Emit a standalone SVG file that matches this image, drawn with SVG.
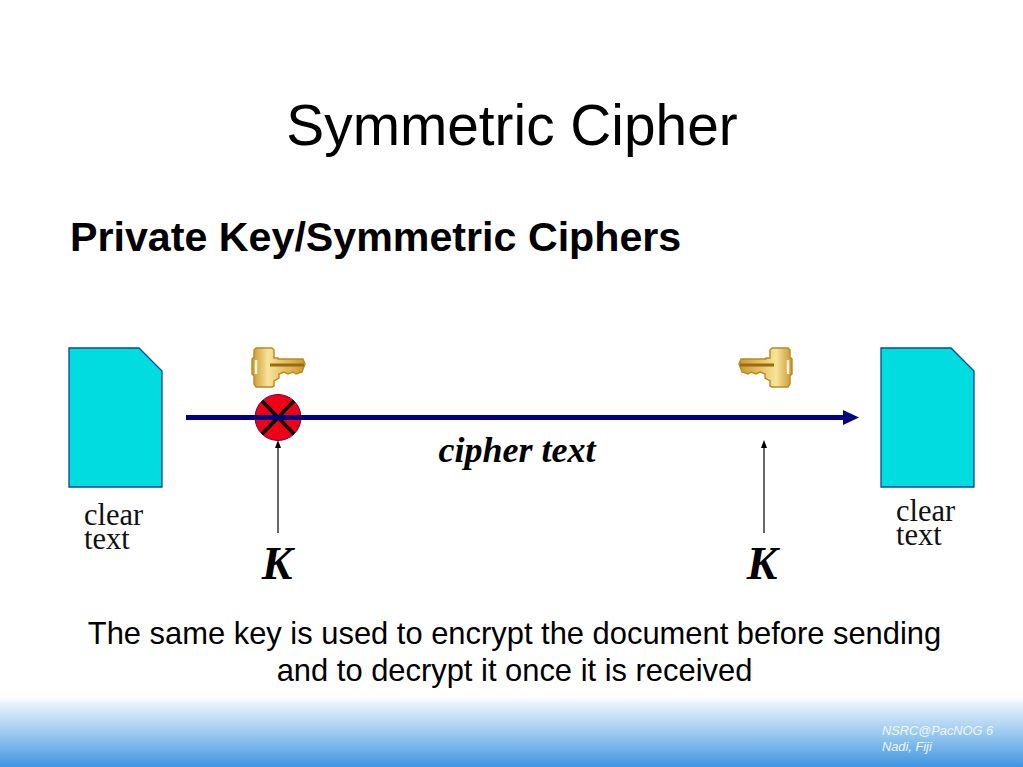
<svg xmlns="http://www.w3.org/2000/svg" width="1023" height="767" viewBox="0 0 1023 767">
<style>
.sans{font-family:"Liberation Sans",Arial,sans-serif}
.serif{font-family:"Liberation Serif","Times New Roman",serif}
.doc{fill:#00dcdf;stroke:#0b4a8f;stroke-width:1.3}
.lbl{font-size:30.5px;fill:#111}
.k{font-size:46px;font-weight:bold;font-style:italic;fill:#000}
.thin{stroke:#000;stroke-width:1.2;fill:none}
.keyb{fill:url(#gold);stroke:#b98a1e;stroke-width:1.4}
.body{font-size:30.9px;fill:#000;text-anchor:middle}
</style>
<defs>
<linearGradient id="band" x1="0" y1="0" x2="0" y2="1">
<stop offset="0" stop-color="#ffffff"/><stop offset="0.1" stop-color="#e6f2fb"/><stop offset="0.5" stop-color="#9fcbf0"/><stop offset="1" stop-color="#3f96e0"/>
</linearGradient>
<linearGradient id="gold" x1="0" y1="0" x2="1" y2="0">
<stop offset="0" stop-color="#c8962e"/><stop offset="0.3" stop-color="#f8e39a"/><stop offset="0.6" stop-color="#e6c264"/><stop offset="1" stop-color="#c89a30"/>
</linearGradient>
<g id="key">
<path class="keyb" d="M256,348 H272 L274,350 V358 H278 V359 H303 L305,364 L302,372 L296,374 L293,372 L288,374 L284,372 L279,374 V378 L274,381 V386 L272,387 H256 L254,384 V376 L252,374 V359 L254,357 V350 Z"/>
<path d="M270,365 H304" stroke="#9a6a14" stroke-width="3" fill="none"/>
<path d="M256,360 V374" stroke="#fff8d8" stroke-width="2.5" fill="none"/>
</g>
</defs>
<rect width="1023" height="767" fill="#fff"/>
<rect id="footer-band" x="0" y="697" width="1023" height="70" fill="url(#band)"/>
<text class="sans" x="512" y="145" font-size="56.8" text-anchor="middle" fill="#000">Symmetric Cipher</text>
<text class="sans" x="70" y="251" font-size="41.2" font-weight="bold" fill="#000">Private Key/Symmetric Ciphers</text>
<g id="doc-left"><path class="doc" d="M69,348 H139 L162,371 V487 H69 Z"/></g>
<g id="doc-right"><path class="doc" d="M881,348 H951 L974,371 V487 H881 Z"/></g>
<g id="label-left"><text class="serif lbl" x="84" y="525">clear<tspan x="84" dy="24">text</tspan></text></g>
<g id="label-right"><text class="serif lbl" x="896" y="521">clear<tspan x="896" dy="24">text</tspan></text></g>
<g id="key-left"><use href="#key"/></g>
<g id="key-right"><use href="#key" transform="translate(1044,0) scale(-1,1)"/></g>
<g id="connectors">
<path d="M186,417.5 H846" stroke="#000080" stroke-width="5" fill="none"/>
<path d="M843,410 L859,417.5 L843,425 Z" fill="#000080"/>
<path class="thin" d="M278,533 V446"/><path d="M275,448 L278,440 L281,448 Z" fill="#000"/>
<path class="thin" d="M764,533 V446"/><path d="M761,448 L764,440 L767,448 Z" fill="#000"/>
</g>
<g id="xor">
<circle cx="278" cy="417.5" r="23" fill="#f00014" stroke="#5a0a5a" stroke-width="1"/>
<path d="M262,401 L294,434 M294,401 L262,434" stroke="#000" stroke-width="3.5" fill="none"/>
<path d="M255,417.5 H301" stroke="#000080" stroke-width="5" fill="none"/>
</g>
<text class="serif" x="517" y="462" font-size="36" font-weight="bold" font-style="italic" text-anchor="middle" fill="#000">cipher text</text>
<text class="serif k" x="277" y="579" text-anchor="middle">K</text>
<text class="serif k" x="762" y="579" text-anchor="middle">K</text>
<text class="sans body" x="514.5" y="644">The same key is used to encrypt the document before sending</text>
<text class="sans body" x="514.5" y="681">and to decrypt it once it is received</text>
<g class="sans" font-size="12.8" font-style="italic" fill="#eef6fd"><text x="882" y="735">NSRC@PacNOG 6</text><text x="882" y="751">Nadi, Fiji</text></g>
</svg>
